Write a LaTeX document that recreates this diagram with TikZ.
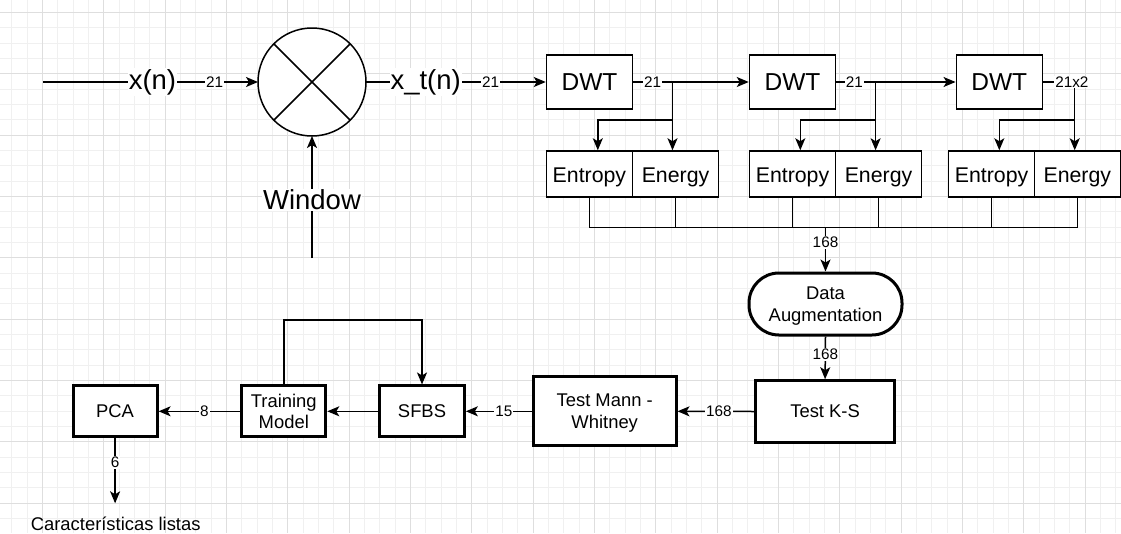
\documentclass[tikz,border=0pt]{standalone}
\usepackage{fontspec}
\setmainfont{Liberation Sans}
\usetikzlibrary{arrows.meta,calc}
\begin{document}
\begin{tikzpicture}[x=1pt,y=-1pt,
  ln/.style={line width=1.5pt},
  arr/.style={ln,-{Stealth[length=12pt,width=10pt,inset=3pt]}},
  lbl/.style={fill=white,inner sep=1pt,font=\fontsize{15.3}{17}\selectfont},
  big/.style={fill=white,inner sep=1pt,font=\fontsize{27.5}{30}\selectfont},
  dwtbox/.style={draw,ln,fill=white,minimum width=86pt,minimum height=54pt,inner sep=0pt,font=\fontsize{24.5}{27}\selectfont},
  febox/.style={draw,ln,fill=white,minimum width=86pt,minimum height=46pt,inner sep=0pt,text height=17.5pt,text depth=0pt,font=\fontsize{21.3}{24}\selectfont},
  heavybox/.style={draw,line width=3pt,fill=white,inner sep=0pt,align=center,text depth=0pt,font=\fontsize{18.4}{21.5}\selectfont},
  minorgrid/.style={draw=black!6,line width=1pt},
  majorgrid/.style={draw=black!13,line width=1pt}
]
\useasboundingbox (0,0) rectangle (1121,533);
% background grid
\foreach \i in {-2,...,70} \draw[minorgrid] ({42.4+15.333*\i},0) -- ({42.4+15.333*\i},533);
\foreach \j in {0,...,33} \draw[minorgrid] (0,{12.35+15.333*\j}) -- (1121,{12.35+15.333*\j});
\foreach \i in {0,...,17} \draw[majorgrid] ({42.4+61.333*\i},0) -- ({42.4+61.333*\i},533);
\foreach \j in {0,...,8} \draw[majorgrid] (0,{12.35+61.333*\j}) -- (1121,{12.35+61.333*\j});

% nodes
\node[circle,draw,ln,fill=white,minimum size=108pt,inner sep=0pt,outer sep=0pt] (mult) at (312,82) {};
\draw[ln] (mult.45) -- (mult.225);
\draw[ln] (mult.135) -- (mult.315);
\coordinate (xin) at (43,82);
\coordinate (wbot) at (312,258);

\node[dwtbox] (dwt1) at (589.5,82) {DWT};
\node[dwtbox] (dwt2) at (792.5,82) {DWT};
\node[dwtbox] (dwt3) at (999.3,82) {DWT};

\node[febox] (ent1) at (589.4,174) {Entropy};
\node[febox] (en1) at (675.5,174) {Energy};
\node[febox] (ent2) at (792.5,174) {Entropy};
\node[febox] (en2) at (878.5,174) {Energy};
\node[febox] (ent3) at (991.6,174) {Entropy};
\node[febox] (en3) at (1077.3,174) {Energy};

\coordinate (j1) at (672.5,82);  \coordinate (b1) at (597.8,120);
\coordinate (j2) at (875.6,82);  \coordinate (b2) at (800.3,120);
\coordinate (j3) at (1074.7,82); \coordinate (b3) at (999.3,120);
\coordinate (coll) at (825.5,227.7);

\node[heavybox,rounded corners=30pt,minimum width=153pt,minimum height=62pt] (da) at (825.5,304) {Data\\[0.5pt]Augmentation};
\node[heavybox,minimum width=139pt,minimum height=61.6pt] (ks) at (825.1,411.5) {Test K-S};
\node[heavybox,minimum width=142.6pt,minimum height=69.3pt] (mw) at (604.7,411.3) {Test Mann -\\Whitney};
\node[heavybox,minimum width=84.7pt,minimum height=50.7pt] (sfbs) at (422,411.3) {SFBS};
\node[heavybox,minimum width=84pt,minimum height=50.7pt] (tm) at (283.8,411.3) {Training\\Model};
\node[heavybox,minimum width=84pt,minimum height=50.7pt] (pca) at (115.1,411.3) {PCA};
\coordinate (lp) at (350,320);
\coordinate (pout) at (115.1,503.3);
\node[font=\fontsize{18.4}{21}\selectfont,inner sep=0pt] (cl) at (115.7,524) {Características listas};

% connectors, top row
\draw[arr] (xin) -- node[big,pos=0.509] (lxn) {x(n)} node[lbl,pos=0.798] (l21a) {21} (mult.west);
\draw[arr] (wbot) -- node[big,pos=0.475] (lwin) {Window} (mult.south);
\draw[arr] (mult.east) -- node[big,pos=0.332] (lxt) {x\_t(n)} node[lbl,pos=0.693] (l21b) {21} (dwt1.west);

\draw[arr] (dwt1.east) -- node[lbl,pos=0.167] (l21c) {21} (dwt2.west);
\draw[arr] (j1) -- (j1 |- en1.north);
\draw[arr] (j1 |- b1) -- (b1) -- (b1 |- ent1.north);

\draw[arr] (dwt2.east) -- node[lbl,pos=0.151] (l21d) {21} (dwt3.west);
\draw[arr] (j2) -- (j2 |- en2.north);
\draw[arr] (j2 |- b2) -- (b2) -- (b2 |- ent2.north);

\draw[arr] (dwt3.east) -- node[lbl,pos=0.91] (l21e) {21x2} (j3) -- (j3 |- en3.north);
\draw[arr] (j3 |- b3) -- (b3) -- (b3 |- ent3.north);

% collector
\draw[ln] (ent1.south) -- (ent1.south |- coll) -- (en3.south |- coll) -- (en3.south);
\foreach \n in {en1,ent2,en2,ent3} \draw[ln] (\n.south) -- (\n.south |- coll);
\draw[arr] (coll) -- node[lbl,pos=0.335] (l168a) {168} (da.north);

% lower row
\draw[arr] (da.south) -- node[lbl,pos=0.42] (l168b) {168} (ks.north);
\draw[arr] (ks.west) -- node[lbl,pos=0.46] (l168c) {168} (mw.east);
\draw[arr] (mw.west) -- node[lbl,pos=0.425] (l15) {15} (sfbs.east);
\draw[arr] (sfbs.west) -- (tm.east);
\draw[arr] (tm.west) -- node[lbl,pos=0.44] (l8) {8} (pca.east);
\draw[arr] (tm.north) -- (tm.north |- lp) -| (sfbs.north);
\draw[arr] (pca.south) -- node[lbl,pos=0.375] (l6) {6} (pout);
\end{tikzpicture}
\end{document}
